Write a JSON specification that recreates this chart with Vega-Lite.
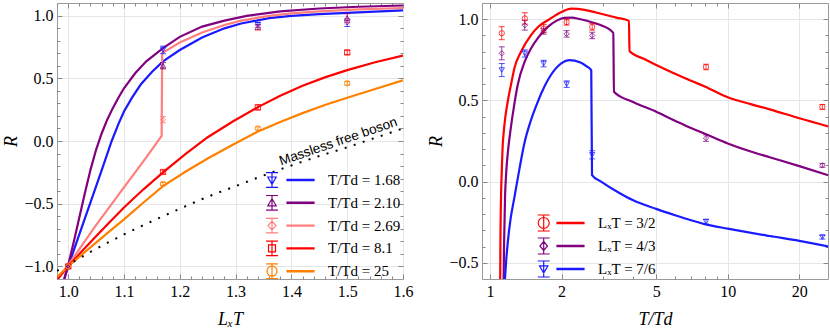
{
  "$schema": "https://vega.github.io/schema/vega-lite/v6.json",
  "padding": {"left": 1, "top": 2, "right": 0, "bottom": 0},
  "bounds": "flush",
  "spacing": 79,
  "datasets": {
    "lcurves": [
      {"x":0.993,"R":-1.1,"s":"1.68"},{"x":1.0,"R":-1.0,"s":"1.68"},{"x":1.02,"R":-0.745,"s":"1.68"},{"x":1.04,"R":-0.49,"s":"1.68"},{"x":1.06,"R":-0.235,"s":"1.68"},{"x":1.078,"R":0.0,"s":"1.68"},{"x":1.09,"R":0.135,"s":"1.68"},{"x":1.1,"R":0.235,"s":"1.68"},{"x":1.115,"R":0.35,"s":"1.68"},{"x":1.13,"R":0.45,"s":"1.68"},{"x":1.15,"R":0.55,"s":"1.68"},{"x":1.17,"R":0.635,"s":"1.68"},{"x":1.2,"R":0.725,"s":"1.68"},{"x":1.24,"R":0.825,"s":"1.68"},{"x":1.28,"R":0.898,"s":"1.68"},{"x":1.31,"R":0.937,"s":"1.68"},{"x":1.36,"R":0.979,"s":"1.68"},{"x":1.4,"R":0.998,"s":"1.68"},{"x":1.45,"R":1.012,"s":"1.68"},{"x":1.5,"R":1.022,"s":"1.68"},{"x":1.55,"R":1.032,"s":"1.68"},{"x":1.6,"R":1.042,"s":"1.68"},
      {"x":0.993,"R":-1.1,"s":"2.10"},{"x":1.0,"R":-0.99,"s":"2.10"},{"x":1.01,"R":-0.805,"s":"2.10"},{"x":1.02,"R":-0.61,"s":"2.10"},{"x":1.03,"R":-0.415,"s":"2.10"},{"x":1.04,"R":-0.23,"s":"2.10"},{"x":1.05,"R":-0.07,"s":"2.10"},{"x":1.06,"R":0.06,"s":"2.10"},{"x":1.07,"R":0.17,"s":"2.10"},{"x":1.08,"R":0.262,"s":"2.10"},{"x":1.09,"R":0.345,"s":"2.10"},{"x":1.1,"R":0.42,"s":"2.10"},{"x":1.12,"R":0.54,"s":"2.10"},{"x":1.14,"R":0.635,"s":"2.10"},{"x":1.17,"R":0.74,"s":"2.10"},{"x":1.2,"R":0.83,"s":"2.10"},{"x":1.24,"R":0.912,"s":"2.10"},{"x":1.28,"R":0.96,"s":"2.10"},{"x":1.32,"R":0.997,"s":"2.10"},{"x":1.38,"R":1.033,"s":"2.10"},{"x":1.45,"R":1.056,"s":"2.10"},{"x":1.52,"R":1.07,"s":"2.10"},{"x":1.6,"R":1.08,"s":"2.10"},
      {"x":0.982,"R":-1.1,"s":"2.69"},{"x":1.0,"R":-0.99,"s":"2.69"},{"x":1.05,"R":-0.67,"s":"2.69"},{"x":1.1,"R":-0.37,"s":"2.69"},{"x":1.14,"R":-0.13,"s":"2.69"},{"x":1.1675,"R":0.04,"s":"2.69"},{"x":1.1685,"R":0.7,"s":"2.69"},{"x":1.2,"R":0.785,"s":"2.69"},{"x":1.24,"R":0.865,"s":"2.69"},{"x":1.28,"R":0.925,"s":"2.69"},{"x":1.31,"R":0.96,"s":"2.69"},{"x":1.36,"R":0.998,"s":"2.69"},{"x":1.4,"R":1.018,"s":"2.69"},{"x":1.45,"R":1.034,"s":"2.69"},{"x":1.52,"R":1.049,"s":"2.69"},{"x":1.6,"R":1.06,"s":"2.69"},
      {"x":0.981,"R":-1.1,"s":"8.1"},{"x":1.0,"R":-1.0,"s":"8.1"},{"x":1.025,"R":-0.877,"s":"8.1"},{"x":1.05,"R":-0.76,"s":"8.1"},{"x":1.075,"R":-0.643,"s":"8.1"},{"x":1.1,"R":-0.53,"s":"8.1"},{"x":1.135,"R":-0.385,"s":"8.1"},{"x":1.17,"R":-0.25,"s":"8.1"},{"x":1.21,"R":-0.105,"s":"8.1"},{"x":1.25,"R":0.03,"s":"8.1"},{"x":1.295,"R":0.155,"s":"8.1"},{"x":1.34,"R":0.27,"s":"8.1"},{"x":1.38,"R":0.36,"s":"8.1"},{"x":1.42,"R":0.44,"s":"8.1"},{"x":1.46,"R":0.507,"s":"8.1"},{"x":1.5,"R":0.565,"s":"8.1"},{"x":1.55,"R":0.628,"s":"8.1"},{"x":1.6,"R":0.68,"s":"8.1"},
      {"x":0.981,"R":-1.08,"s":"25"},{"x":1.0,"R":-1.0,"s":"25"},{"x":1.025,"R":-0.904,"s":"25"},{"x":1.05,"R":-0.81,"s":"25"},{"x":1.075,"R":-0.717,"s":"25"},{"x":1.1,"R":-0.625,"s":"25"},{"x":1.135,"R":-0.49,"s":"25"},{"x":1.17,"R":-0.36,"s":"25"},{"x":1.21,"R":-0.245,"s":"25"},{"x":1.25,"R":-0.14,"s":"25"},{"x":1.295,"R":-0.03,"s":"25"},{"x":1.34,"R":0.075,"s":"25"},{"x":1.38,"R":0.152,"s":"25"},{"x":1.42,"R":0.222,"s":"25"},{"x":1.46,"R":0.287,"s":"25"},{"x":1.5,"R":0.345,"s":"25"},{"x":1.55,"R":0.415,"s":"25"},{"x":1.6,"R":0.483,"s":"25"}
    ],
    "boson": [
      {"x":0.98,"R":-1.035},{"x":1.0,"R":-0.985},{"x":1.05,"R":-0.86},{"x":1.1,"R":-0.745},{"x":1.15,"R":-0.64},{"x":1.2,"R":-0.54},{"x":1.25,"R":-0.445},{"x":1.3,"R":-0.36},{"x":1.35,"R":-0.275},{"x":1.4,"R":-0.195},{"x":1.45,"R":-0.12},{"x":1.5,"R":-0.05},{"x":1.55,"R":0.025},{"x":1.6,"R":0.1}
    ],
    "lpts": [
      {"x":1.0,"R":-1.0,"err":0.012,"s":"1.68"},{"x":1.0,"R":-1.0,"err":0.012,"s":"2.10"},{"x":1.0,"R":-1.0,"err":0.012,"s":"2.69"},{"x":1.0,"R":-1.0,"err":0.012,"s":"8.1"},{"x":1.0,"R":-1.0,"err":0.012,"s":"25"},
      {"x":1.17,"R":0.726,"err":0.03,"s":"1.68"},{"x":1.17,"R":0.6,"err":0.025,"s":"2.10"},{"x":1.17,"R":0.17,"err":0.025,"s":"2.69"},{"x":1.17,"R":-0.247,"err":0.015,"s":"8.1"},{"x":1.17,"R":-0.342,"err":0.012,"s":"25"},
      {"x":1.34,"R":0.926,"err":0.02,"s":"1.68"},{"x":1.34,"R":0.908,"err":0.02,"s":"2.10"},{"x":1.34,"R":0.9,"err":0.02,"s":"2.69"},{"x":1.34,"R":0.268,"err":0.02,"s":"8.1"},{"x":1.34,"R":0.1,"err":0.012,"s":"25"},
      {"x":1.5,"R":0.943,"err":0.03,"s":"1.68"},{"x":1.5,"R":0.98,"err":0.035,"s":"2.10"},{"x":1.5,"R":0.953,"err":0.02,"s":"2.69"},{"x":1.5,"R":0.706,"err":0.017,"s":"8.1"},{"x":1.5,"R":0.46,"err":0.015,"s":"25"}
    ],
    "note": [{"x":1.484,"R":-0.005,"t":"Massless free boson"}],
    "rcurves": [
      {"x":1.103,"R":-0.62,"s":"3/2"},{"x":1.106,"R":-0.35,"s":"3/2"},{"x":1.112,"R":-0.1,"s":"3/2"},{"x":1.12,"R":0.06,"s":"3/2"},{"x":1.131,"R":0.23,"s":"3/2"},{"x":1.141,"R":0.3,"s":"3/2"},{"x":1.16,"R":0.4,"s":"3/2"},{"x":1.187,"R":0.493,"s":"3/2"},{"x":1.23,"R":0.61,"s":"3/2"},{"x":1.265,"R":0.697,"s":"3/2"},{"x":1.35,"R":0.8,"s":"3/2"},{"x":1.487,"R":0.902,"s":"3/2"},{"x":1.6,"R":0.955,"s":"3/2"},{"x":1.75,"R":0.994,"s":"3/2"},{"x":2.0,"R":1.045,"s":"3/2"},{"x":2.2,"R":1.065,"s":"3/2"},{"x":2.5,"R":1.058,"s":"3/2"},{"x":2.93,"R":1.034,"s":"3/2"},{"x":3.4,"R":1.01,"s":"3/2"},{"x":3.84,"R":0.99,"s":"3/2"},{"x":3.86,"R":0.804,"s":"3/2"},{"x":4.5,"R":0.752,"s":"3/2"},{"x":5,"R":0.718,"s":"3/2"},{"x":6,"R":0.664,"s":"3/2"},{"x":7,"R":0.621,"s":"3/2"},{"x":8,"R":0.586,"s":"3/2"},{"x":10,"R":0.52,"s":"3/2"},{"x":12.5,"R":0.477,"s":"3/2"},{"x":15,"R":0.445,"s":"3/2"},{"x":20,"R":0.39,"s":"3/2"},{"x":26.5,"R":0.34,"s":"3/2"},
      {"x":1.14,"R":-0.62,"s":"4/3"},{"x":1.145,"R":-0.4,"s":"4/3"},{"x":1.156,"R":-0.1,"s":"4/3"},{"x":1.17,"R":0.06,"s":"4/3"},{"x":1.19,"R":0.19,"s":"4/3"},{"x":1.215,"R":0.3,"s":"4/3"},{"x":1.26,"R":0.46,"s":"4/3"},{"x":1.307,"R":0.595,"s":"4/3"},{"x":1.4,"R":0.74,"s":"4/3"},{"x":1.487,"R":0.82,"s":"4/3"},{"x":1.6,"R":0.89,"s":"4/3"},{"x":1.75,"R":0.953,"s":"4/3"},{"x":1.9,"R":0.99,"s":"4/3"},{"x":2.05,"R":1.008,"s":"4/3"},{"x":2.2,"R":1.01,"s":"4/3"},{"x":2.4,"R":1.0,"s":"4/3"},{"x":2.7,"R":0.98,"s":"4/3"},{"x":2.93,"R":0.963,"s":"4/3"},{"x":3.3,"R":0.916,"s":"4/3"},{"x":3.32,"R":0.554,"s":"4/3"},{"x":4,"R":0.49,"s":"4/3"},{"x":5,"R":0.43,"s":"4/3"},{"x":6,"R":0.375,"s":"4/3"},{"x":7,"R":0.33,"s":"4/3"},{"x":8,"R":0.295,"s":"4/3"},{"x":10,"R":0.235,"s":"4/3"},{"x":12.5,"R":0.185,"s":"4/3"},{"x":15,"R":0.15,"s":"4/3"},{"x":20,"R":0.095,"s":"4/3"},{"x":26.5,"R":0.039,"s":"4/3"},
      {"x":1.153,"R":-0.62,"s":"7/6"},{"x":1.17,"R":-0.48,"s":"7/6"},{"x":1.19,"R":-0.36,"s":"7/6"},{"x":1.22,"R":-0.23,"s":"7/6"},{"x":1.265,"R":-0.1,"s":"7/6"},{"x":1.33,"R":0.08,"s":"7/6"},{"x":1.394,"R":0.235,"s":"7/6"},{"x":1.48,"R":0.37,"s":"7/6"},{"x":1.586,"R":0.49,"s":"7/6"},{"x":1.7,"R":0.59,"s":"7/6"},{"x":1.8,"R":0.655,"s":"7/6"},{"x":2.0,"R":0.73,"s":"7/6"},{"x":2.15,"R":0.748,"s":"7/6"},{"x":2.4,"R":0.734,"s":"7/6"},{"x":2.55,"R":0.71,"s":"7/6"},{"x":2.665,"R":0.685,"s":"7/6"},{"x":2.685,"R":0.04,"s":"7/6"},{"x":2.93,"R":0.0,"s":"7/6"},{"x":3.5,"R":-0.07,"s":"7/6"},{"x":4,"R":-0.115,"s":"7/6"},{"x":5,"R":-0.168,"s":"7/6"},{"x":6,"R":-0.207,"s":"7/6"},{"x":7,"R":-0.238,"s":"7/6"},{"x":8,"R":-0.262,"s":"7/6"},{"x":10,"R":-0.29,"s":"7/6"},{"x":15,"R":-0.335,"s":"7/6"},{"x":20,"R":-0.365,"s":"7/6"},{"x":26.5,"R":-0.4,"s":"7/6"}
    ],
    "rpts": [
      {"x":1.12,"R":0.914,"err":0.04,"s":"3/2"},{"x":1.4,"R":1.005,"err":0.035,"s":"3/2"},{"x":1.68,"R":0.943,"err":0.025,"s":"3/2"},{"x":2.1,"R":0.982,"err":0.018,"s":"3/2"},{"x":2.69,"R":0.953,"err":0.02,"s":"3/2"},{"x":8.1,"R":0.706,"err":0.017,"s":"3/2"},{"x":25,"R":0.46,"err":0.015,"s":"3/2"},
      {"x":1.12,"R":0.79,"err":0.04,"s":"4/3"},{"x":1.4,"R":0.963,"err":0.03,"s":"4/3"},{"x":1.68,"R":0.926,"err":0.018,"s":"4/3"},{"x":2.1,"R":0.91,"err":0.02,"s":"4/3"},{"x":2.69,"R":0.9,"err":0.02,"s":"4/3"},{"x":8.1,"R":0.268,"err":0.02,"s":"4/3"},{"x":25,"R":0.1,"err":0.012,"s":"4/3"},
      {"x":1.12,"R":0.687,"err":0.04,"s":"7/6"},{"x":1.4,"R":0.789,"err":0.022,"s":"7/6"},{"x":1.68,"R":0.727,"err":0.02,"s":"7/6"},{"x":2.1,"R":0.6,"err":0.02,"s":"7/6"},{"x":2.69,"R":0.165,"err":0.025,"s":"7/6"},{"x":8.1,"R":-0.247,"err":0.015,"s":"7/6"},{"x":25,"R":-0.342,"err":0.012,"s":"7/6"}
    ]
  },
  "hconcat": [
    {
      "width": 346,
      "height": 276,
      "layer": [
        {
          "data": {"name": "lcurves"},
          "mark": {"type": "line", "clip": true, "strokeWidth": 2.2, "interpolate": "linear"},
          "encoding": {
            "x": {"field": "x", "type": "quantitative", "scale": {"domain": [0.98, 1.6], "nice": false, "zero": false},
              "axis": {"orient": "bottom", "title": "LₓT", "labelFont": "Liberation Serif", "labelFontSize": 16,
                "values": [0.98,1,1.02,1.04,1.06,1.08,1.1,1.12,1.14,1.16,1.18,1.2,1.22,1.24,1.26,1.28,1.3,1.32,1.34,1.36,1.38,1.4,1.42,1.44,1.46,1.48,1.5,1.52,1.54,1.56,1.58,1.6],
                "labelExpr": "abs(datum.value*10-round(datum.value*10))<0.001 ? format(datum.value,'.1f') : ''",
                "grid": true,
                "gridOpacity": {"condition": {"test": "abs(datum.value*10-round(datum.value*10))<0.001", "value": 1}, "value": 0},
                "tickSize": {"condition": {"test": "abs(datum.value*10-round(datum.value*10))<0.001", "value": -5}, "value": -3},
                "labelPadding": 9.5, "titlePadding": 11.7, "minExtent": 20, "maxExtent": 20}},
            "y": {"field": "R", "type": "quantitative", "scale": {"domain": [-1.1, 1.1], "nice": false, "zero": false},
              "axis": {"orient": "left", "title": "R", "labelFont": "Liberation Serif", "labelFontSize": 16,
                "values": [-1,-0.9,-0.8,-0.7,-0.6,-0.5,-0.4,-0.3,-0.2,-0.1,0,0.1,0.2,0.3,0.4,0.5,0.6,0.7,0.8,0.9,1],
                "labelExpr": "abs(datum.value*2-round(datum.value*2))<0.001 ? format(datum.value,'.1f') : ''",
                "grid": true,
                "gridOpacity": {"condition": {"test": "abs(datum.value*2-round(datum.value*2))<0.001", "value": 1}, "value": 0},
                "tickSize": {"condition": {"test": "abs(datum.value*2-round(datum.value*2))<0.001", "value": -5}, "value": -3},
                "labelPadding": 9, "titlePadding": 2.8, "minExtent": 34, "maxExtent": 34}},
            "color": {"field": "s", "type": "nominal", "scale": {"domain": ["1.68","2.10","2.69","8.1","25"], "range": ["#1a1aff","#800080","#ff7f7f","#ff0000","#ff8000"]}, "legend": null}
          }
        },
        {
          "data": {"name": "boson"},
          "mark": {"type": "line", "clip": true, "color": "black", "strokeWidth": 2, "strokeDash": [2, 7.5], "interpolate": "monotone"},
          "encoding": {
            "x": {"field": "x", "type": "quantitative", "scale": {"domain": [0.98, 1.6], "nice": false, "zero": false},
              "axis": {"orient": "top", "title": null, "labels": false, "grid": false,
                "values": [0.98,1,1.02,1.04,1.06,1.08,1.1,1.12,1.14,1.16,1.18,1.2,1.22,1.24,1.26,1.28,1.3,1.32,1.34,1.36,1.38,1.4,1.42,1.44,1.46,1.48,1.5,1.52,1.54,1.56,1.58,1.6],
                "tickSize": {"condition": {"test": "abs(datum.value*10-round(datum.value*10))<0.001", "value": -5}, "value": -3}}},
            "y": {"field": "R", "type": "quantitative", "scale": {"domain": [-1.1, 1.1], "nice": false, "zero": false},
              "axis": {"orient": "right", "title": null, "labels": false, "grid": false,
                "values": [-1,-0.9,-0.8,-0.7,-0.6,-0.5,-0.4,-0.3,-0.2,-0.1,0,0.1,0.2,0.3,0.4,0.5,0.6,0.7,0.8,0.9,1],
                "tickSize": {"condition": {"test": "abs(datum.value*2-round(datum.value*2))<0.001", "value": -5}, "value": -3}}}
          }
        },
        {
          "data": {"name": "lpts"},
          "mark": {"type": "errorbar", "ticks": {"size": 6}, "thickness": 1, "opacity": 0.8},
          "encoding": {
            "x": {"field": "x", "type": "quantitative", "scale": {"domain": [0.98, 1.6], "nice": false, "zero": false}, "axis": null},
            "y": {"field": "R", "type": "quantitative", "scale": {"domain": [-1.1, 1.1], "nice": false, "zero": false}, "axis": null},
            "yError": {"field": "err"},
            "color": {"field": "s", "type": "nominal", "scale": {"domain": ["1.68","2.10","2.69","8.1","25"], "range": ["#1a1aff","#800080","#ff7f7f","#ff0000","#ff8000"]}, "legend": null}
          }
        },
        {
          "data": {"name": "lpts"},
          "mark": {"type": "point", "filled": false, "size": 28, "strokeWidth": 1, "opacity": 0.8},
          "encoding": {
            "x": {"field": "x", "type": "quantitative", "scale": {"domain": [0.98, 1.6], "nice": false, "zero": false}, "axis": null},
            "y": {"field": "R", "type": "quantitative", "scale": {"domain": [-1.1, 1.1], "nice": false, "zero": false}, "axis": null},
            "color": {"field": "s", "type": "nominal", "scale": {"domain": ["1.68","2.10","2.69","8.1","25"], "range": ["#1a1aff","#800080","#ff7f7f","#ff0000","#ff8000"]}, "legend": null},
            "shape": {"field": "s", "type": "nominal", "scale": {"domain": ["1.68","2.10","2.69","8.1","25"], "range": ["triangle-down","triangle-up","diamond","square","circle"]}, "legend": null}
          }
        },
        {
          "data": {"name": "lpts"},
          "mark": {"type": "point", "filled": false, "opacity": 0},
          "encoding": {
            "x": {"field": "x", "type": "quantitative", "scale": {"domain": [0.98, 1.6], "nice": false, "zero": false}, "axis": null},
            "y": {"field": "R", "type": "quantitative", "scale": {"domain": [-1.1, 1.1], "nice": false, "zero": false}, "axis": null},
            "color": {"field": "s", "type": "nominal", "scale": {"domain": ["1.68","2.10","2.69","8.1","25"], "range": ["#1a1aff","#800080","#ff7f7f","#ff0000","#ff8000"]},
              "legend": {"title": null, "orient": "none", "legendX": 232.5, "legendY": 166, "symbolSize": 400, "symbolStrokeWidth": 1.2, "labelOffset": 16.5, "rowPadding": 1.8, "padding": 0, "labelFont": "Liberation Serif", "labelFontSize": 15, "labelColor": "black", "labelExpr": "'T/Td = ' + datum.label"}},
            "shape": {"field": "s", "type": "nominal", "scale": {"domain": ["1.68","2.10","2.69","8.1","25"], "range": [
              "M-3.45,-0.73H-2.25M-2.85,-0.73V0.73M-3.45,0.73H-2.25M-3.27,-0.3L-2.43,-0.3L-2.85,0.42ZM-1.35,-0.06H1.35V0.06H-1.35Z",
              "M-3.45,-0.73H-2.25M-2.85,-0.73V0.73M-3.45,0.73H-2.25M-3.27,0.3L-2.43,0.3L-2.85,-0.42ZM-1.35,-0.06H1.35V0.06H-1.35Z",
              "M-3.45,-0.73H-2.25M-2.85,-0.73V0.73M-3.45,0.73H-2.25M-2.85,-0.45L-2.45,0L-2.85,0.45L-3.25,0ZM-1.35,-0.06H1.35V0.06H-1.35Z",
              "M-3.45,-0.73H-2.25M-2.85,-0.73V0.73M-3.45,0.73H-2.25M-3.2,-0.35H-2.5V0.35H-3.2ZM-1.35,-0.06H1.35V0.06H-1.35Z",
              "M-3.45,-0.73H-2.25M-2.85,-0.73V0.73M-3.45,0.73H-2.25M-3.35,0A0.5,0.5,0,1,0,-2.35,0A0.5,0.5,0,1,0,-3.35,0ZM-1.35,-0.06H1.35V0.06H-1.35Z"]},
              "legend": {"title": null, "orient": "none", "legendX": 232.5, "legendY": 166, "symbolSize": 400, "symbolStrokeWidth": 1.2, "labelOffset": 16.5, "rowPadding": 1.8, "padding": 0, "labelFont": "Liberation Serif", "labelFontSize": 15, "labelColor": "black", "labelExpr": "'T/Td = ' + datum.label"}}
          }
        },
        {
          "data": {"name": "note"},
          "mark": {"type": "text", "angle": 341.1, "font": "Liberation Sans", "fontSize": 13.5, "color": "black", "align": "center", "baseline": "middle"},
          "encoding": {
            "x": {"field": "x", "type": "quantitative", "scale": {"domain": [0.98, 1.6], "nice": false, "zero": false}, "axis": null},
            "y": {"field": "R", "type": "quantitative", "scale": {"domain": [-1.1, 1.1], "nice": false, "zero": false}, "axis": null},
            "text": {"field": "t"}
          }
        }
      ],
      "resolve": {"scale": {"color": "independent", "shape": "independent"}, "axis": {"x": "independent", "y": "independent"}}
    },
    {
      "width": 346,
      "height": 276,
      "layer": [
        {
          "data": {"name": "rcurves"},
          "mark": {"type": "line", "clip": true, "strokeWidth": 2.2, "interpolate": "monotone"},
          "encoding": {
            "x": {"field": "x", "type": "quantitative", "scale": {"type": "log", "domain": [0.925, 26.4], "nice": false},
              "axis": {"orient": "bottom", "title": "T/Td", "labelFont": "Liberation Serif", "labelFontSize": 16,
                "values": [1,2,3,4,5,6,7,8,9,10,20],
                "labelExpr": "indexof([1,2,5,10,20], datum.value) >= 0 ? format(datum.value,'d') : ''",
                "grid": true,
                "gridOpacity": {"condition": {"test": "indexof([1,2,5,10,20], datum.value) >= 0", "value": 1}, "value": 0},
                "tickSize": {"condition": {"test": "indexof([1,2,5,10,20], datum.value) >= 0", "value": -5}, "value": -3},
                "labelPadding": 9.5, "titlePadding": 11.7, "minExtent": 20, "maxExtent": 20}},
            "y": {"field": "R", "type": "quantitative", "scale": {"domain": [-0.6, 1.1], "nice": false, "zero": false},
              "axis": {"orient": "left", "title": "R", "labelFont": "Liberation Serif", "labelFontSize": 16,
                "values": [-0.5,-0.4,-0.3,-0.2,-0.1,0,0.1,0.2,0.3,0.4,0.5,0.6,0.7,0.8,0.9,1],
                "labelExpr": "abs(datum.value*2-round(datum.value*2))<0.001 ? format(datum.value,'.1f') : ''",
                "grid": true,
                "gridOpacity": {"condition": {"test": "abs(datum.value*2-round(datum.value*2))<0.001", "value": 1}, "value": 0},
                "tickSize": {"condition": {"test": "abs(datum.value*2-round(datum.value*2))<0.001", "value": -5}, "value": -3},
                "labelPadding": 9, "titlePadding": 2.8, "minExtent": 34, "maxExtent": 34}},
            "color": {"field": "s", "type": "nominal", "scale": {"domain": ["3/2","4/3","7/6"], "range": ["#ff0000","#800080","#1a1aff"]}, "legend": null}
          }
        },
        {
          "data": {"name": "rpts"},
          "mark": {"type": "errorbar", "ticks": {"size": 6}, "thickness": 1, "opacity": 0.75},
          "encoding": {
            "x": {"field": "x", "type": "quantitative", "scale": {"type": "log", "domain": [0.925, 26.4], "nice": false}, "axis": null},
            "y": {"field": "R", "type": "quantitative", "scale": {"domain": [-0.6, 1.1], "nice": false, "zero": false}, "axis": null},
            "yError": {"field": "err"},
            "color": {"field": "s", "type": "nominal", "scale": {"domain": ["3/2","4/3","7/6"], "range": ["#ff0000","#800080","#1a1aff"]}, "legend": null}
          }
        },
        {
          "data": {"name": "rpts"},
          "mark": {"type": "point", "filled": false, "size": 28, "strokeWidth": 1, "opacity": 0.75},
          "encoding": {
            "x": {"field": "x", "type": "quantitative", "scale": {"type": "log", "domain": [0.925, 26.4], "nice": false},
              "axis": {"orient": "top", "title": null, "labels": false, "grid": false, "values": [1,2,3,4,5,6,7,8,9,10,20],
                "tickSize": {"condition": {"test": "indexof([1,2,5,10,20], datum.value) >= 0", "value": -5}, "value": -3}}},
            "y": {"field": "R", "type": "quantitative", "scale": {"domain": [-0.6, 1.1], "nice": false, "zero": false},
              "axis": {"orient": "right", "title": null, "labels": false, "grid": false,
                "values": [-0.5,-0.4,-0.3,-0.2,-0.1,0,0.1,0.2,0.3,0.4,0.5,0.6,0.7,0.8,0.9,1],
                "tickSize": {"condition": {"test": "abs(datum.value*2-round(datum.value*2))<0.001", "value": -5}, "value": -3}}},
            "color": {"field": "s", "type": "nominal", "scale": {"domain": ["3/2","4/3","7/6"], "range": ["#ff0000","#800080","#1a1aff"]}, "legend": null},
            "shape": {"field": "s", "type": "nominal", "scale": {"domain": ["3/2","4/3","7/6"], "range": ["circle","diamond","triangle-down"]}, "legend": null}
          }
        },
        {
          "data": {"name": "rpts"},
          "mark": {"type": "point", "filled": false, "opacity": 0},
          "encoding": {
            "x": {"field": "x", "type": "quantitative", "scale": {"type": "log", "domain": [0.925, 26.4], "nice": false}, "axis": null},
            "y": {"field": "R", "type": "quantitative", "scale": {"domain": [-0.6, 1.1], "nice": false, "zero": false}, "axis": null},
            "color": {"field": "s", "type": "nominal", "scale": {"domain": ["3/2","4/3","7/6"], "range": ["#ff0000","#800080","#1a1aff"]},
              "legend": {"title": null, "orient": "none", "legendX": 77.5, "legendY": 209, "symbolSize": 400, "symbolStrokeWidth": 1.2, "labelOffset": 16.5, "rowPadding": 1, "padding": 0, "labelFont": "Liberation Serif", "labelFontSize": 15, "labelColor": "black", "labelExpr": "'LₓT = ' + datum.label"}},
            "shape": {"field": "s", "type": "nominal", "scale": {"domain": ["3/2","4/3","7/6"], "range": [
              "M-3.28,-0.8H-2.08M-2.68,-0.8V0.8M-3.28,0.8H-2.08M-3.23,0A0.55,0.55,0,1,0,-2.13,0A0.55,0.55,0,1,0,-3.23,0ZM-1.35,-0.06H1.35V0.06H-1.35Z",
              "M-3.28,-0.8H-2.08M-2.68,-0.8V0.8M-3.28,0.8H-2.08M-2.68,-0.45L-2.3,0L-2.68,0.45L-3.06,0ZM-1.35,-0.06H1.35V0.06H-1.35Z",
              "M-3.28,-0.8H-2.08M-2.68,-0.8V0.8M-3.28,0.8H-2.08M-3.1,-0.32L-2.26,-0.32L-2.68,0.4ZM-1.35,-0.06H1.35V0.06H-1.35Z"]},
              "legend": {"title": null, "orient": "none", "legendX": 77.5, "legendY": 209, "symbolSize": 400, "symbolStrokeWidth": 1.2, "labelOffset": 16.5, "rowPadding": 1, "padding": 0, "labelFont": "Liberation Serif", "labelFontSize": 15, "labelColor": "black", "labelExpr": "'LₓT = ' + datum.label"}}
          }
        }
      ],
      "resolve": {"scale": {"color": "independent", "shape": "independent"}, "axis": {"x": "independent", "y": "independent"}}
    }
  ],
  "config": {
    "view": {"stroke": "#9a9a9a", "strokeWidth": 1},
    "style": {"guide-label": {"font": "Liberation Serif", "fontSize": 16}},
    "axis": {"domain": false, "labelFont": "Liberation Serif", "labelFontSize": 16, "labelColor": "#000000", "titleFont": "Liberation Serif", "titleFontSize": 18, "titleFontStyle": "italic", "titleFontWeight": "normal", "titleColor": "#000000", "tickColor": "#888888", "tickWidth": 1, "gridColor": "#e6e6e6", "gridWidth": 1, "labelOverlap": false, "labelFlush": false},
    "legend": {"labelFont": "Liberation Serif", "labelFontSize": 15}
  }
}
